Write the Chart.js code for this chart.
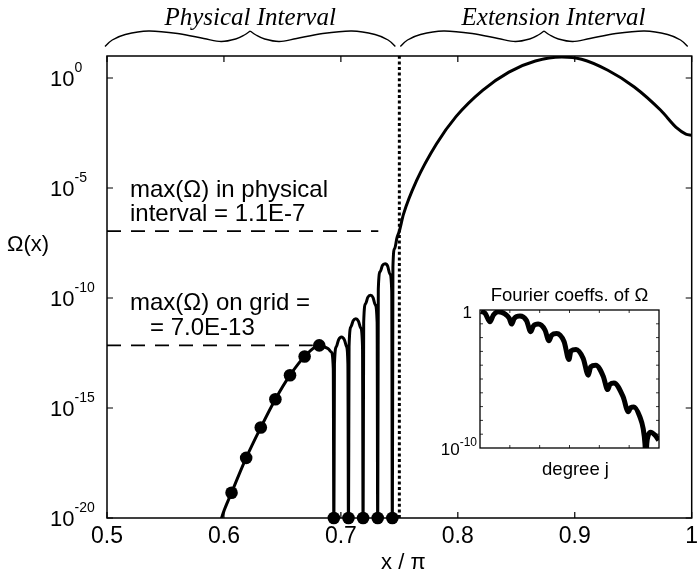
<!DOCTYPE html>
<html>
<head>
<meta charset="utf-8">
<script src="https://cdn.jsdelivr.net/npm/chart.js@4/dist/chart.umd.min.js"></script>
<style>
  html, body { margin: 0; padding: 0; background: #fff; }
  #wrap { position: relative; width: 698px; height: 573px; overflow: hidden; background: #fff; }
  #main { position: absolute; left: 0; top: 0; }
  #inset { position: absolute; left: 430px; top: 280px; }
</style>
</head>
<body>
<div id="wrap">
  <canvas id="main" width="698" height="573"></canvas>
  <canvas id="inset" width="250" height="200"></canvas>
</div>
<script>
// Ω(x) along x/π (zeros at the grid nodes are plotted just below the axis floor)
const omegaX = [0.594, 0.598, 0.6065, 0.619, 0.6315, 0.644, 0.6565, 0.669, 0.6815,
  0.6845, 0.689, 0.6918, 0.6935, 0.694,
  0.6945, 0.6962, 0.698, 0.7005, 0.703, 0.7048, 0.706, 0.7065,
  0.707, 0.7087, 0.7105, 0.7128, 0.715, 0.7168, 0.7185, 0.719,
  0.7195, 0.7212, 0.723, 0.7253, 0.7275, 0.7293, 0.731, 0.7315,
  0.732, 0.7337, 0.7355, 0.7378, 0.74, 0.7418, 0.7435, 0.744,
  0.7445, 0.746, 0.748, 0.75, 0.7535, 0.7648, 0.7817, 0.7986, 0.8212, 0.8437,
  0.8663, 0.8889, 0.9058, 0.9283, 0.9509, 0.9735, 0.9875, 0.995, 1.0];
const omegaY = [1.3e-21, 1e-20, 1.4e-19, 5.4e-18, 1.3e-16, 2.5e-15, 3.1e-14, 2.2e-13, 7.0e-13,
  6.4e-13, 5.0e-13, 3.5e-13, 6e-14, 1e-21,
  1e-13, 6.3e-13, 1.26e-12, 1.7e-12, 1.26e-12, 6.3e-13, 1e-13, 1e-21,
  6.3e-13, 5.0e-12, 9.3e-12, 1.15e-11, 8.9e-12, 4.5e-12, 6.3e-13, 1e-21,
  7.9e-12, 5.6e-11, 1.07e-10, 1.32e-10, 1.05e-10, 5.0e-11, 7.9e-12, 1e-21,
  2.5e-10, 1.6e-9, 3.0e-9, 3.6e-9, 2.8e-9, 1.26e-9, 2.0e-10, 1e-21,
  2.5e-9, 1.8e-8, 5.6e-8, 1.1e-7, 6.3e-7, 2.2e-5, 1.0e-3, 1.8e-2, 0.275, 1.86,
  5.9, 8.9, 7.1, 2.24, 0.39, 0.034, 5.2e-3, 2.8e-3, 2.5e-3];

// values on the grid nodes (the last five are zero, drawn on the axis floor)
const gridX = [0.6065, 0.619, 0.6315, 0.644, 0.6565, 0.669, 0.6815, 0.694, 0.7065, 0.719, 0.7315, 0.744];
const gridY = [1.4e-19, 5.4e-18, 1.3e-16, 2.5e-15, 3.1e-14, 2.2e-13, 7.0e-13, 1e-20, 1e-20, 1e-20, 1e-20, 1e-20];

// reference levels and interval boundary
const physMax = 1.1e-7;
const physMaxSpan = [0.5, 0.732];
const gridMax = 7.0e-13;
const gridMaxSpan = [0.5, 0.676];
const boundaryX = 0.75;

// axes
const xTicks = [0.5, 0.6, 0.7, 0.8, 0.9, 1.0];
const xTickLabels = ['0.5', '0.6', '0.7', '0.8', '0.9', '1'];
const yTickExponents = [0, -5, -10, -15, -20];

// Fourier coefficients of Ω versus degree j
const coeffDegree = [0.3, 1.7, 3.35, 4.5, 6.15, 8.4, 9.8, 10.6, 11.5, 13.4, 15.6, 17.0, 17.9, 19.5,
  21.8, 23.1, 24.0, 25.7, 28.2, 29.8, 30.5, 32.2, 34.6, 36.3, 37.1, 38.8, 41.3, 42.8, 43.6, 44.9,
  48.0, 49.7, 50.5, 51.6, 53.6, 54.7, 55.3, 55.6, 55.9, 56.4, 57.2, 58.7, 59.9];
const coeffValue = [0.79, 0.58, 0.14, 0.44, 0.76, 0.51, 0.25, 0.095, 0.25, 0.36, 0.17, 0.027, 0.069, 0.095,
  0.035, 5.9e-3, 0.015, 0.020, 5.0e-3, 2.6e-4, 1.1e-3, 1.4e-3, 3.1e-4, 1.9e-5, 7.6e-5, 1.0e-4, 1.6e-5, 1.7e-6, 4.2e-6, 5.2e-6,
  5.0e-7, 4.2e-8, 8.5e-8, 9.5e-8, 1.8e-8, 2.5e-9, 2.0e-10, 1e-11, 2.0e-10, 8.3e-10, 1.4e-9, 8.3e-10, 3.6e-10];
const coeffDegreeTicks = [10, 20, 30, 40, 50];

const SANS = '"Liberation Sans", Arial, Helvetica, sans-serif';
const SERIF = '"Liberation Serif", "Times New Roman", serif';

const pts = (xs, ys) => xs.map((v, i) => ({ x: v, y: ys[i] }));

function whiteBg(chart) {
  const ctx = chart.ctx;
  ctx.save();
  ctx.fillStyle = '#fff';
  ctx.fillRect(0, 0, chart.width, chart.height);
  ctx.restore();
}

// smooth curve through points (Catmull-Rom)
function smoothPath(ctx, p) {
  ctx.moveTo(p[0][0], p[0][1]);
  for (let i = 0; i < p.length - 1; i++) {
    const p0 = p[Math.max(i - 1, 0)], p1 = p[i], p2 = p[i + 1], p3 = p[Math.min(i + 2, p.length - 1)];
    ctx.bezierCurveTo(p1[0] + (p2[0] - p0[0]) / 6, p1[1] + (p2[1] - p0[1]) / 6,
                      p2[0] - (p3[0] - p1[0]) / 6, p2[1] - (p3[1] - p1[1]) / 6,
                      p2[0], p2[1]);
  }
}

// curly brace over [xL, xR]: curled ends, cusp in the middle
function drawBrace(ctx, xL, xR) {
  const xm = (xL + xR) / 2, w = xm - xL;
  const half = [[0, 46.5], [0.05, 40], [0.14, 34.5], [0.3, 31], [0.5, 33.5], [0.68, 38.5],
                [0.8, 41.5], [0.9, 39], [0.96, 35], [1.0, 31]];
  ctx.beginPath();
  smoothPath(ctx, half.map(([f, yy]) => [xL + f * w, yy]));
  smoothPath(ctx, half.map(([f, yy]) => [xR - f * w, yy]));
  ctx.stroke();
}

function powerLabel(ctx, xLeft, yMid, exp, baseSize, expSize, supRise) {
  ctx.textAlign = 'left';
  ctx.textBaseline = 'middle';
  ctx.font = baseSize + 'px ' + SANS;
  ctx.fillText('10', xLeft, yMid);
  const bw = ctx.measureText('10').width;
  ctx.font = expSize + 'px ' + SANS;
  ctx.fillText(String(exp), xLeft + bw, yMid - supRise);
}

const mainDecor = {
  id: 'mainDecor',
  beforeDraw: whiteBg,
  afterDraw(chart) {
    const { ctx, chartArea: a, scales: { x, y } } = chart;
    ctx.save();
    ctx.strokeStyle = '#000';
    ctx.fillStyle = '#000';

    // frame
    ctx.lineWidth = 1.5;
    ctx.strokeRect(a.left, a.top, a.right - a.left, a.bottom - a.top);

    // inward ticks
    ctx.lineWidth = 1.2;
    ctx.beginPath();
    xTicks.forEach(v => {
      const px = x.getPixelForValue(v);
      ctx.moveTo(px, a.bottom); ctx.lineTo(px, a.bottom - 6);
      ctx.moveTo(px, a.top); ctx.lineTo(px, a.top + 6);
    });
    yTickExponents.forEach(e => {
      const py = y.getPixelForValue(Math.pow(10, e));
      ctx.moveTo(a.left, py); ctx.lineTo(a.left + 6, py);
      ctx.moveTo(a.right, py); ctx.lineTo(a.right - 6, py);
    });
    ctx.stroke();

    // tick labels
    ctx.font = '23px ' + SANS;
    ctx.textAlign = 'center';
    ctx.textBaseline = 'middle';
    xTicks.forEach((v, i) => ctx.fillText(xTickLabels[i], x.getPixelForValue(v), a.bottom + 19));
    yTickExponents.forEach(e => {
      const py = y.getPixelForValue(Math.pow(10, e));
      powerLabel(ctx, a.left - 57, py + 1.5, e, 22, 14, 11);
    });

    // axis titles
    ctx.font = '22px ' + SANS;
    ctx.textAlign = 'center';
    ctx.fillText('x / \u03C0', (a.left + a.right) / 2 + 4, 563);
    ctx.fillText('\u03A9(x)', 28, 245);

    // annotations
    ctx.font = '24px ' + SANS;
    ctx.textAlign = 'left';
    ctx.textBaseline = 'alphabetic';
    ctx.fillText('max(\u03A9) in physical', 130, 196.5);
    ctx.fillText('interval = 1.1E-7', 130, 220.5);
    ctx.fillText('max(\u03A9) on grid =', 130, 310);
    ctx.fillText('= 7.0E-13', 150, 335);

    // interval braces
    ctx.lineWidth = 1.4;
    const x0 = x.getPixelForValue(0.5), xb = x.getPixelForValue(boundaryX), x1 = x.getPixelForValue(1.0);
    drawBrace(ctx, x0 - 2, xb - 4);
    drawBrace(ctx, xb + 1, x1 - 4);
    ctx.font = 'italic 25px ' + SERIF;
    ctx.textAlign = 'center';
    ctx.fillText('Physical Interval', (x0 + xb) / 2 - 3, 25);
    ctx.fillText('Extension Interval', (xb + x1) / 2 + 8, 25);

    ctx.restore();
  }
};

new Chart(document.getElementById('main'), {
  type: 'line',
  data: {
    datasets: [
      { data: pts(gridX, gridY), showLine: false, pointRadius: 6.3, pointBackgroundColor: '#000',
        pointBorderColor: '#000', pointBorderWidth: 0, clip: false },
      { data: pts(omegaX, omegaY), borderColor: '#000', borderWidth: 3, pointRadius: 0,
        cubicInterpolationMode: 'monotone' },
      { data: pts(physMaxSpan, [physMax, physMax]), borderColor: '#000', borderWidth: 1.8,
        borderDash: [14, 10], pointRadius: 0 },
      { data: pts(gridMaxSpan, [gridMax, gridMax]), borderColor: '#000', borderWidth: 1.8,
        borderDash: [14, 10], pointRadius: 0 },
      { data: pts([boundaryX, boundaryX], [1e-20, 10]), borderColor: '#000', borderWidth: 3,
        borderDash: [3, 2.6], pointRadius: 0 }
    ]
  },
  options: {
    responsive: false,
    animation: false,
    devicePixelRatio: 1,
    layout: { padding: { left: 107, right: 1, top: 56, bottom: 55 } },
    scales: {
      x: { type: 'linear', min: 0.5, max: 1.0, display: false },
      y: { type: 'logarithmic', min: 1e-20, max: 10, display: false }
    },
    plugins: { legend: { display: false }, tooltip: { enabled: false } }
  },
  plugins: [mainDecor]
});

const insetDecor = {
  id: 'insetDecor',
  afterDraw(chart) {
    const { ctx, chartArea: a, scales: { x, y } } = chart;
    ctx.save();
    ctx.strokeStyle = '#000';
    ctx.fillStyle = '#000';
    ctx.lineWidth = 1.3;
    ctx.strokeRect(a.left, a.top, a.right - a.left, a.bottom - a.top);

    ctx.lineWidth = 0.8;
    ctx.beginPath();
    for (let e = -1; e >= -9; e--) {
      const py = y.getPixelForValue(Math.pow(10, e));
      ctx.moveTo(a.left, py); ctx.lineTo(a.left + 3, py);
      ctx.moveTo(a.right, py); ctx.lineTo(a.right - 3, py);
    }
    coeffDegreeTicks.forEach(v => {
      const px = x.getPixelForValue(v);
      ctx.moveTo(px, a.bottom); ctx.lineTo(px, a.bottom - 3);
      ctx.moveTo(px, a.top); ctx.lineTo(px, a.top + 3);
    });
    ctx.stroke();

    ctx.font = '17px ' + SANS;
    ctx.textAlign = 'right';
    ctx.textBaseline = 'middle';
    ctx.fillText('1', a.left - 8, y.getPixelForValue(1) + 3);
    ctx.font = '17px ' + SANS;
    const bw = ctx.measureText('10').width;
    ctx.font = '12px ' + SANS;
    const ew = ctx.measureText('-10').width;
    powerLabel(ctx, a.left - 3 - ew - bw, y.getPixelForValue(1e-10) + 2, -10, 17, 12, 7);

    ctx.font = '18.5px ' + SANS;
    ctx.textAlign = 'center';
    ctx.fillText('Fourier coeffs. of \u03A9', (a.left + a.right) / 2, a.top - 14);
    ctx.fillText('degree j', (a.left + a.right) / 2 + 6, a.bottom + 22);
    ctx.restore();
  }
};

new Chart(document.getElementById('inset'), {
  type: 'line',
  data: {
    datasets: [
      { data: pts(coeffDegree, coeffValue), borderColor: '#000', borderWidth: 5, pointRadius: 0,
        cubicInterpolationMode: 'monotone' }
    ]
  },
  options: {
    responsive: false,
    animation: false,
    devicePixelRatio: 1,
    layout: { padding: { left: 50, right: 21, top: 30, bottom: 32 } },
    scales: {
      x: { type: 'linear', min: 0, max: 60, display: false },
      y: { type: 'logarithmic', min: 1e-10, max: 1, display: false }
    },
    plugins: { legend: { display: false }, tooltip: { enabled: false } }
  },
  plugins: [insetDecor]
});
</script>
</body>
</html>
